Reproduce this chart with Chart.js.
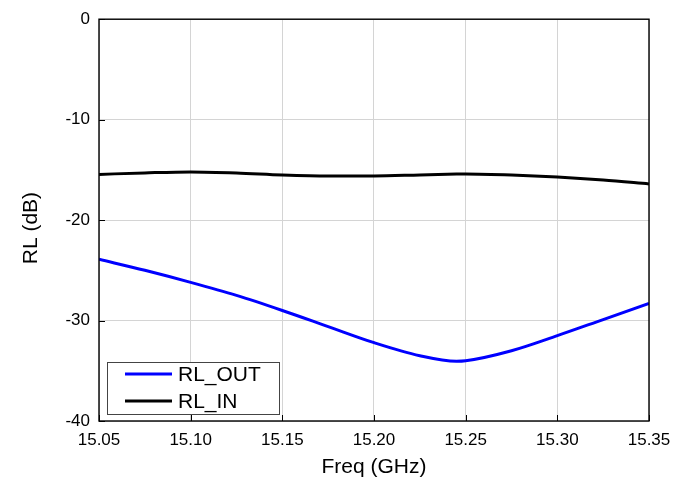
<!DOCTYPE html>
<html>
<head>
<meta charset="utf-8">
<script src="https://cdn.jsdelivr.net/npm/chart.js@4/dist/chart.umd.min.js"></script>
<style>
  html, body { margin: 0; padding: 0; background: #fff; }
  #wrap { width: 688px; height: 484px; }
</style>
</head>
<body>
<div id="wrap"><canvas id="rlChart" width="688" height="484"></canvas></div>
<script>
// frequency points (GHz)
const freq = [15.05, 15.075, 15.10, 15.125, 15.15, 15.175, 15.20, 15.225, 15.245, 15.25, 15.275, 15.30, 15.325, 15.35];
// return loss, dB
const rlOut = [-23.9, -25.0, -26.2, -27.5, -29.0, -30.6, -32.2, -33.5, -34.05, -34.0, -33.0, -31.5, -29.9, -28.3];
const rlIn  = [-15.45, -15.3, -15.2, -15.3, -15.5, -15.6, -15.6, -15.5, -15.42, -15.4, -15.5, -15.7, -16.0, -16.4];
const xTicks = [15.05, 15.10, 15.15, 15.20, 15.25, 15.30, 15.35];
const yTicks = [-40, -30, -20, -10, 0];
const yTitle = 'RL (dB)';

const FONT = 'Liberation Sans, Arial, sans-serif';

function pts(ys) {
    return freq.map((f, i) => ({ x: f, y: ys[i] }));
}

// box, inward ticks, y title and legend inside the plot, matlab style
const framePlugin = {
    id: 'frame',
    afterDraw(chart) {
        const ctx = chart.ctx;
        const a = chart.chartArea;
        const xs = chart.scales.x, ys = chart.scales.y;
        ctx.save();
        ctx.strokeStyle = '#000';
        ctx.lineWidth = 1;
        ctx.beginPath();
        xTicks.forEach(v => {
            const px = Math.round(xs.getPixelForValue(v)) + 0.5;
            ctx.moveTo(px, a.bottom);
            ctx.lineTo(px, a.bottom - 6);
        });
        yTicks.forEach(v => {
            const py = Math.round(ys.getPixelForValue(v)) + 0.5;
            ctx.moveTo(a.left, py);
            ctx.lineTo(a.left + 6, py);
        });
        ctx.stroke();
        ctx.lineWidth = 1.4;
        ctx.strokeRect(a.left, a.top, a.right - a.left, a.bottom - a.top);

        // y title, a bit below the plot centre like the original
        ctx.save();
        ctx.translate(31, (a.top + a.bottom) / 2 + 8);
        ctx.rotate(-Math.PI / 2);
        ctx.font = '21px ' + FONT;
        ctx.fillStyle = '#000';
        ctx.textAlign = 'center';
        ctx.textBaseline = 'middle';
        ctx.fillText(yTitle, 0, 0);
        ctx.restore();

        // legend
        const lx = a.left + 8, ly = a.bottom - 59, lw = 172, lh = 52;
        ctx.fillStyle = '#fff';
        ctx.fillRect(lx, ly, lw, lh);
        ctx.strokeStyle = '#444';
        ctx.lineWidth = 1;
        ctx.strokeRect(lx + 0.5, ly + 0.5, lw, lh);
        ctx.font = '21px ' + FONT;
        ctx.textBaseline = 'middle';
        chart.data.datasets.forEach((ds, i) => {
            const yy = ly + 12 + i * 27;
            ctx.strokeStyle = ds.borderColor;
            ctx.lineWidth = 3;
            ctx.beginPath();
            ctx.moveTo(lx + 18, yy);
            ctx.lineTo(lx + 65, yy);
            ctx.stroke();
            ctx.fillStyle = '#000';
            ctx.fillText(ds.label, lx + 71, yy + 1);
        });
        ctx.restore();
    }
};

window.onload = function () {
    const ctx = document.getElementById('rlChart').getContext('2d');
    new Chart(ctx, {
        type: 'line',
        data: {
            datasets: [
                {
                    label: 'RL_OUT',
                    data: pts(rlOut),
                    borderColor: '#0000ff',
                    borderWidth: 3,
                    pointRadius: 0,
                    cubicInterpolationMode: 'monotone',
                    fill: false
                },
                {
                    label: 'RL_IN',
                    data: pts(rlIn),
                    borderColor: '#000000',
                    borderWidth: 3,
                    pointRadius: 0,
                    cubicInterpolationMode: 'monotone',
                    fill: false
                }
            ]
        },
        options: {
            responsive: false,
            animation: false,
            layout: { padding: { left: 0, right: 39, top: 17, bottom: 0 } },
            plugins: {
                legend: { display: false },
                tooltip: { enabled: false }
            },
            scales: {
                x: {
                    type: 'linear',
                    min: 15.05,
                    max: 15.35,
                    afterBuildTicks: s => { s.ticks = xTicks.map(v => ({ value: v })); },
                    afterFit: s => { s.height = 63; },
                    grid: { color: '#d4d4d4', drawTicks: false },
                    border: { display: false },
                    ticks: {
                        padding: 9,
                        color: '#000',
                        font: { family: FONT, size: 17 },
                        maxRotation: 0,
                        callback: v => Number(v).toFixed(2)
                    },
                    title: {
                        display: true,
                        text: 'Freq (GHz)',
                        color: '#000',
                        font: { family: FONT, size: 21 },
                        padding: { top: 0, bottom: 4 }
                    }
                },
                y: {
                    min: -40,
                    max: 0,
                    afterBuildTicks: s => { s.ticks = yTicks.map(v => ({ value: v })); },
                    afterFit: s => { s.width = 99; },
                    grid: { color: '#d4d4d4', drawTicks: false },
                    border: { display: false },
                    ticks: {
                        padding: 9,
                        color: '#000',
                        font: { family: FONT, size: 17 }
                    }
                }
            }
        },
        plugins: [framePlugin]
    });
};
</script>
</body>
</html>
